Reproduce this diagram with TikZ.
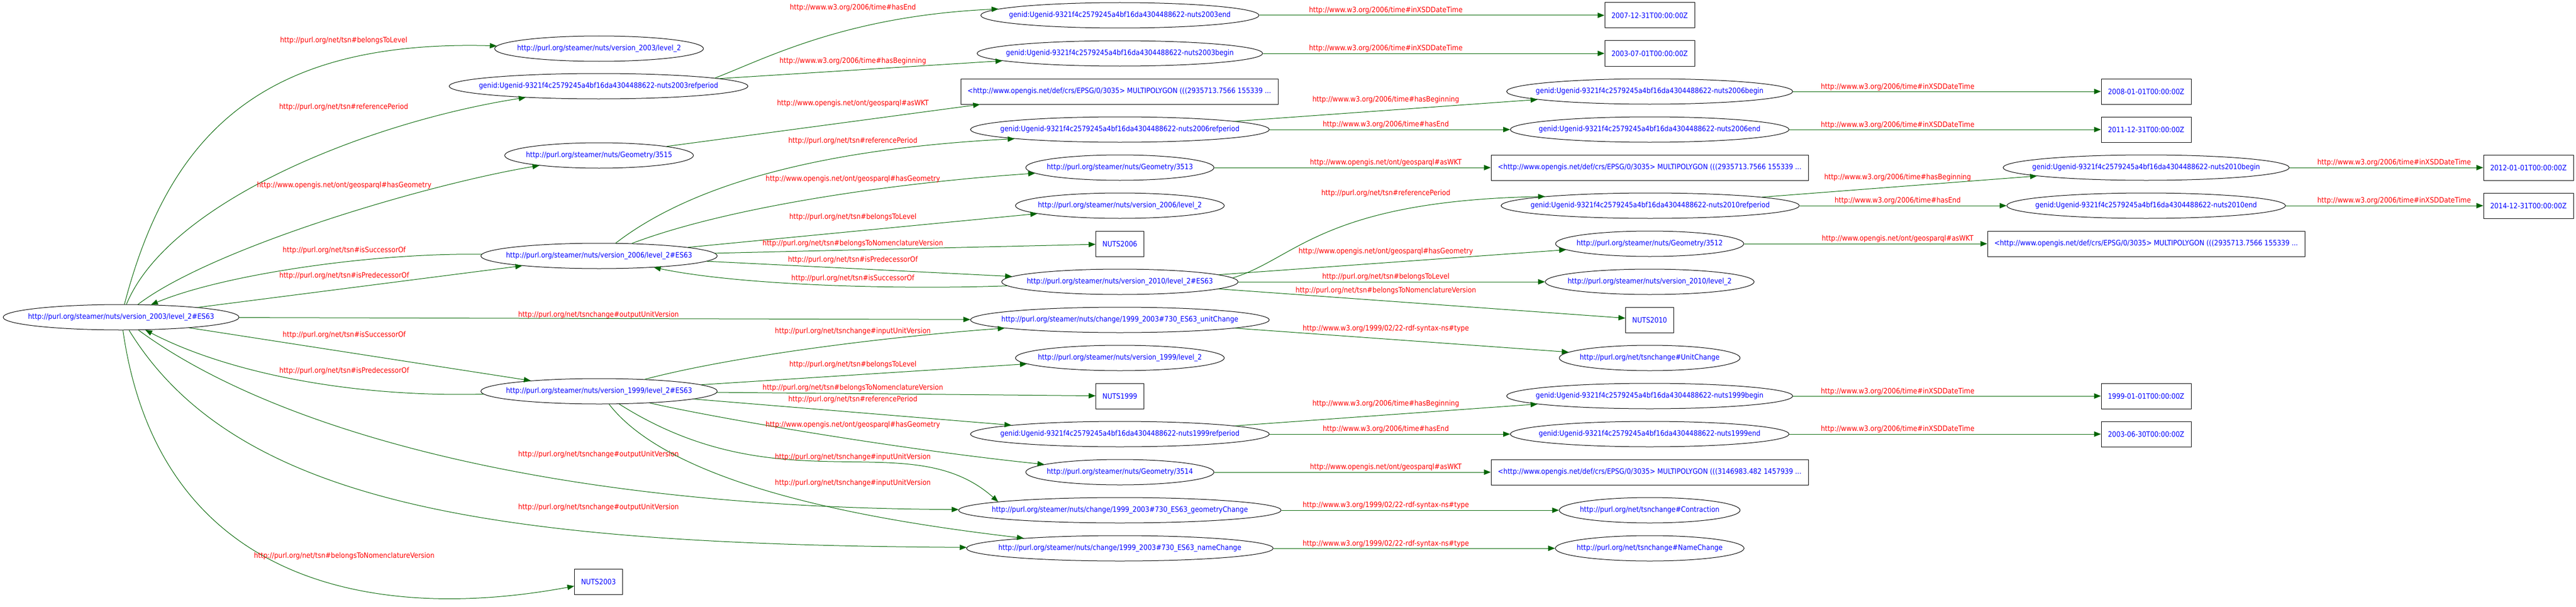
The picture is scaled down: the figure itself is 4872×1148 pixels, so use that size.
\documentclass[tikz,border=0pt]{standalone}
\usepackage{fontspec}
\setmainfont{DejaVu Sans}[FakeStretch=0.89]
\usetikzlibrary{arrows.meta, shapes.geometric}
\definecolor{relGreen}{RGB}{0,100,0}
\newcommand{\gfont}{\fontsize{14}{16}\selectfont}

\begin{document}
\begin{tikzpicture}[x=1pt, y=-1pt, >={Triangle[length=13pt, width=10pt]},
    res/.style={ellipse, draw, line width=1pt, inner xsep=-150pt, inner ysep=-20pt, minimum height=48pt, text=blue, font=\gfont},
    lit/.style={rectangle, draw, line width=1pt, minimum height=48pt, text=blue, font=\gfont},
    lbl/.style={text=red, inner sep=0pt, font=\gfont},
    rel/.style={->, draw=relGreen, line width=1pt}]
    \useasboundingbox (0,0) rectangle (4872,1148);

    % first column
    \node[res, minimum width=446pt] (es2003) at (229,600) {http://purl.org/steamer/nuts/version\_2003/level\_2\#ES63};

    % second column
    \node[res, minimum width=395pt] (lvl2003) at (1133,92) {http://purl.org/steamer/nuts/version\_2003/level\_2};
    \node[res, minimum width=565pt] (rp2003) at (1132,163) {genid:Ugenid-9321f4c2579245a4bf16da4304488622-nuts2003refperiod};
    \node[res, minimum width=357pt] (geo3515) at (1133,294) {http://purl.org/steamer/nuts/Geometry/3515};
    \node[res, minimum width=447pt] (es2006) at (1133,484) {http://purl.org/steamer/nuts/version\_2006/level\_2\#ES63};
    \node[res, minimum width=447pt] (es1999) at (1133,740) {http://purl.org/steamer/nuts/version\_1999/level\_2\#ES63};
    \node[lit, minimum width=91pt] (nuts2003) at (1132,1100) {NUTS2003};

    % third column
    \node[res, minimum width=526pt] (end2003) at (2118,29) {genid:Ugenid-9321f4c2579245a4bf16da4304488622-nuts2003end};
    \node[res, minimum width=540pt] (begin2003) at (2118,101) {genid:Ugenid-9321f4c2579245a4bf16da4304488622-nuts2003begin};
    \node[lit, minimum width=600pt] (wkt3515) at (2117,173) {<http://www.opengis.net/def/crs/EPSG/0/3035> MULTIPOLYGON (((2935713.7566 155339 ...};
    \node[res, minimum width=565pt] (rp2006) at (2118,245) {genid:Ugenid-9321f4c2579245a4bf16da4304488622-nuts2006refperiod};
    \node[res, minimum width=356pt] (geo3513) at (2118,317) {http://purl.org/steamer/nuts/Geometry/3513};
    \node[res, minimum width=395pt] (lvl2006) at (2118,389) {http://purl.org/steamer/nuts/version\_2006/level\_2};
    \node[lit, minimum width=91pt] (nuts2006) at (2118,461) {NUTS2006};
    \node[res, minimum width=447pt] (es2010) at (2118,533) {http://purl.org/steamer/nuts/version\_2010/level\_2\#ES63};
    \node[res, minimum width=565pt] (uc) at (2118,605) {http://purl.org/steamer/nuts/change/1999\_2003\#730\_ES63\_unitChange};
    \node[res, minimum width=395pt] (lvl1999) at (2118,677) {http://purl.org/steamer/nuts/version\_1999/level\_2};
    \node[lit, minimum width=91pt] (nuts1999) at (2118,749) {NUTS1999};
    \node[res, minimum width=565pt] (rp1999) at (2118,821) {genid:Ugenid-9321f4c2579245a4bf16da4304488622-nuts1999refperiod};
    \node[res, minimum width=356pt] (geo3514) at (2118,893) {http://purl.org/steamer/nuts/Geometry/3514};
    \node[res, minimum width=610pt] (gc) at (2118,965) {http://purl.org/steamer/nuts/change/1999\_2003\#730\_ES63\_geometryChange};
    \node[res, minimum width=580pt] (nc) at (2118,1037) {http://purl.org/steamer/nuts/change/1999\_2003\#730\_ES63\_nameChange};

    % fourth column
    \node[lit, minimum width=170pt] (d20071231) at (3120,29) {2007-12-31T00:00:00Z};
    \node[lit, minimum width=170pt] (d20030701) at (3120,101) {2003-07-01T00:00:00Z};
    \node[res, minimum width=541pt] (begin2006) at (3120,173) {genid:Ugenid-9321f4c2579245a4bf16da4304488622-nuts2006begin};
    \node[res, minimum width=527pt] (end2006) at (3120,245) {genid:Ugenid-9321f4c2579245a4bf16da4304488622-nuts2006end};
    \node[lit, minimum width=600pt] (wkt3513) at (3120,317) {<http://www.opengis.net/def/crs/EPSG/0/3035> MULTIPOLYGON (((2935713.7566 155339 ...};
    \node[res, minimum width=564pt] (rp2010) at (3121,389) {genid:Ugenid-9321f4c2579245a4bf16da4304488622-nuts2010refperiod};
    \node[res, minimum width=356pt] (geo3512) at (3120,461) {http://purl.org/steamer/nuts/Geometry/3512};
    \node[res, minimum width=395pt] (lvl2010) at (3120,533) {http://purl.org/steamer/nuts/version\_2010/level\_2};
    \node[lit, minimum width=91pt] (nuts2010) at (3120,605) {NUTS2010};
    \node[res, minimum width=342pt] (unitchg) at (3120,677) {http://purl.org/net/tsnchange\#UnitChange};
    \node[res, minimum width=541pt] (begin1999) at (3120,749) {genid:Ugenid-9321f4c2579245a4bf16da4304488622-nuts1999begin};
    \node[res, minimum width=527pt] (end1999) at (3120,821) {genid:Ugenid-9321f4c2579245a4bf16da4304488622-nuts1999end};
    \node[lit, minimum width=600pt] (wkt3514) at (3120,893) {<http://www.opengis.net/def/crs/EPSG/0/3035> MULTIPOLYGON (((3146983.482 1457939 ...};
    \node[res, minimum width=342pt] (contr) at (3120,965) {http://purl.org/net/tsnchange\#Contraction};
    \node[res, minimum width=357pt] (namechg) at (3120,1037) {http://purl.org/net/tsnchange\#NameChange};

    % fifth and sixth column
    \node[lit, minimum width=170pt] (d20080101) at (4059,173) {2008-01-01T00:00:00Z};
    \node[lit, minimum width=170pt] (d20111231) at (4059,245) {2011-12-31T00:00:00Z};
    \node[res, minimum width=541pt] (begin2010) at (4059,317) {genid:Ugenid-9321f4c2579245a4bf16da4304488622-nuts2010begin};
    \node[res, minimum width=527pt] (end2010) at (4059,389) {genid:Ugenid-9321f4c2579245a4bf16da4304488622-nuts2010end};
    \node[lit, minimum width=600pt] (wkt3512) at (4059,461) {<http://www.opengis.net/def/crs/EPSG/0/3035> MULTIPOLYGON (((2935713.7566 155339 ...};
    \node[lit, minimum width=170pt] (d19990101) at (4059,749) {1999-01-01T00:00:00Z};
    \node[lit, minimum width=170pt] (d20030630) at (4059,821) {2003-06-30T00:00:00Z};
    \node[lit, minimum width=170pt] (d20120101) at (4782,317) {2012-01-01T00:00:00Z};
    \node[lit, minimum width=170pt] (d20141231) at (4782,389) {2014-12-31T00:00:00Z};

    % edges of version 2003
    \draw[rel] (es2003) .. controls (320,250) and (500,75) .. (lvl2003);
    \draw[rel] (es2003) .. controls (320,380) and (700,230) .. (rp2003);
    \draw[rel] (es2003) .. controls (400,470) and (800,350) .. (geo3515);
    \draw[rel] (es2006) .. controls (700,478) and (420,520) .. (es2003);
    \draw[rel] (es2003) -- (es2006);
    \draw[rel] (es2003) -- (uc);
    \draw[rel] (es2003) -- (es1999);
    \draw[rel] (es1999) .. controls (650,752) and (420,700) .. (es2003);
    \draw[rel] (es2003) .. controls (500,800) and (1000,960) .. (gc);
    \draw[rel] (es2003) .. controls (450,960) and (950,1030) .. (nc);
    \draw[rel] (es2003) .. controls (300,1100) and (700,1180) .. (nuts2003);
    \node[lbl] (l1) at (650,77) {http://purl.org/net/tsn\#belongsToLevel};
    \node[lbl] (l2) at (650,203) {http://purl.org/net/tsn\#referencePeriod};
    \node[lbl] (l3) at (651,351) {http://www.opengis.net/ont/geosparql\#hasGeometry};
    \node[lbl] (l4) at (651,474) {http://purl.org/net/tsn\#isSuccessorOf};
    \node[lbl] (l5) at (651,522) {http://purl.org/net/tsn\#isPredecessorOf};
    \node[lbl] (l6) at (1132,596) {http://purl.org/net/tsnchange\#outputUnitVersion};
    \node[lbl] (l7) at (651,634) {http://purl.org/net/tsn\#isSuccessorOf};
    \node[lbl] (l8) at (651,702) {http://purl.org/net/tsn\#isPredecessorOf};
    \node[lbl] (l9) at (1132,860) {http://purl.org/net/tsnchange\#outputUnitVersion};
    \node[lbl] (l10) at (1132,960) {http://purl.org/net/tsnchange\#outputUnitVersion};
    \node[lbl] (l11) at (651,1052) {http://purl.org/net/tsn\#belongsToNomenclatureVersion};

    % edges of version 1999
    \draw[rel] (es1999) .. controls (1400,670) and (1700,635) .. (uc);
    \draw[rel] (es1999) -- (lvl1999);
    \draw[rel] (es1999) -- (nuts1999);
    \draw[rel] (es1999) -- (rp1999);
    \draw[rel] (es1999) .. controls (1350,790) and (1700,850) .. (geo3514);
    \draw[rel] (es1999) .. controls (1480,960) and (1720,800) .. (gc.176);
    \draw[rel] (es1999) .. controls (1280,930) and (1700,990) .. (nc.174);
    \node[lbl] (l12) at (1613,627) {http://purl.org/net/tsnchange\#inputUnitVersion};
    \node[lbl] (l13) at (1613,690) {http://purl.org/net/tsn\#belongsToLevel};
    \node[lbl] (l14) at (1613,734) {http://purl.org/net/tsn\#belongsToNomenclatureVersion};
    \node[lbl] (l15) at (1613,756) {http://purl.org/net/tsn\#referencePeriod};
    \node[lbl] (l16) at (1613,804) {http://www.opengis.net/ont/geosparql\#hasGeometry};
    \node[lbl] (l17) at (1613,865) {http://purl.org/net/tsnchange\#inputUnitVersion};
    \node[lbl] (l18) at (1613,914) {http://purl.org/net/tsnchange\#inputUnitVersion};

    % edges of version 2006
    \draw[rel] (es2006) .. controls (1320,340) and (1580,280) .. (rp2006.185);
    \draw[rel] (es2006) .. controls (1380,390) and (1700,345) .. (geo3513);
    \draw[rel] (es2006) -- (lvl2006);
    \draw[rel] (es2006) -- (nuts2006);
    \draw[rel] (es2006) -- (es2010);
    \draw[rel] (es2010) .. controls (1700,548) and (1400,540) .. (es2006);
    \node[lbl] (l19) at (1613,267) {http://purl.org/net/tsn\#referencePeriod};
    \node[lbl] (l20) at (1613,339) {http://www.opengis.net/ont/geosparql\#hasGeometry};
    \node[lbl] (l21) at (1613,411) {http://purl.org/net/tsn\#belongsToLevel};
    \node[lbl] (l22) at (1613,461) {http://purl.org/net/tsn\#belongsToNomenclatureVersion};
    \node[lbl] (l23) at (1613,492) {http://purl.org/net/tsn\#isPredecessorOf};
    \node[lbl] (l24) at (1613,527) {http://purl.org/net/tsn\#isSuccessorOf};

    % periods and geometry of 2003
    \draw[rel] (rp2003.4) .. controls (1450,110) and (1600,30) .. (end2003.177);
    \draw[rel] (rp2003) -- (begin2003);
    \draw[rel] (geo3515) -- ([xshift=37pt]wkt3515.south west);
    \node[lbl] (l25) at (1613,15) {http://www.w3.org/2006/time\#hasEnd};
    \node[lbl] (l26) at (1613,116) {http://www.w3.org/2006/time\#hasBeginning};
    \node[lbl] (l27) at (1613,196) {http://www.opengis.net/ont/geosparql\#asWKT};

    % third to fourth column
    \draw[rel] (end2003) -- (d20071231);
    \draw[rel] (begin2003) -- (d20030701);
    \draw[rel] (rp2006) -- (begin2006);
    \draw[rel] (rp2006) -- (end2006);
    \draw[rel] (geo3513) -- (wkt3513);
    \draw[rel] (es2010.2) .. controls (2450,490) and (2500,380) .. (rp2010.175);
    \draw[rel] (es2010) -- (geo3512);
    \draw[rel] (es2010) -- (lvl2010);
    \draw[rel] (es2010) -- (nuts2010);
    \draw[rel] (uc) -- (unitchg);
    \draw[rel] (rp1999) -- (begin1999);
    \draw[rel] (rp1999) -- (end1999);
    \draw[rel] (geo3514) -- (wkt3514);
    \draw[rel] (gc) -- (contr);
    \draw[rel] (nc) -- (namechg);
    \node[lbl] (l28) at (2621,20) {http://www.w3.org/2006/time\#inXSDDateTime};
    \node[lbl] (l29) at (2621,92) {http://www.w3.org/2006/time\#inXSDDateTime};
    \node[lbl] (l30) at (2621,189) {http://www.w3.org/2006/time\#hasBeginning};
    \node[lbl] (l31) at (2621,236) {http://www.w3.org/2006/time\#hasEnd};
    \node[lbl] (l32) at (2621,308) {http://www.opengis.net/ont/geosparql\#asWKT};
    \node[lbl] (l33) at (2621,366) {http://purl.org/net/tsn\#referencePeriod};
    \node[lbl] (l34) at (2621,476) {http://www.opengis.net/ont/geosparql\#hasGeometry};
    \node[lbl] (l35) at (2621,524) {http://purl.org/net/tsn\#belongsToLevel};
    \node[lbl] (l36) at (2621,550) {http://purl.org/net/tsn\#belongsToNomenclatureVersion};
    \node[lbl] (l37) at (2621,622) {http://www.w3.org/1999/02/22-rdf-syntax-ns\#type};
    \node[lbl] (l38) at (2621,764) {http://www.w3.org/2006/time\#hasBeginning};
    \node[lbl] (l39) at (2621,812) {http://www.w3.org/2006/time\#hasEnd};
    \node[lbl] (l40) at (2621,884) {http://www.opengis.net/ont/geosparql\#asWKT};
    \node[lbl] (l41) at (2621,956) {http://www.w3.org/1999/02/22-rdf-syntax-ns\#type};
    \node[lbl] (l42) at (2621,1029) {http://www.w3.org/1999/02/22-rdf-syntax-ns\#type};

    % fourth to sixth column
    \draw[rel] (begin2006) -- (d20080101);
    \draw[rel] (end2006) -- (d20111231);
    \draw[rel] (rp2010) -- (begin2010);
    \draw[rel] (rp2010) -- (end2010);
    \draw[rel] (geo3512) -- (wkt3512);
    \draw[rel] (begin1999) -- (d19990101);
    \draw[rel] (end1999) -- (d20030630);
    \draw[rel] (begin2010) -- (d20120101);
    \draw[rel] (end2010) -- (d20141231);
    \node[lbl] (l43) at (3589,165) {http://www.w3.org/2006/time\#inXSDDateTime};
    \node[lbl] (l44) at (3589,237) {http://www.w3.org/2006/time\#inXSDDateTime};
    \node[lbl] (l45) at (3589,336) {http://www.w3.org/2006/time\#hasBeginning};
    \node[lbl] (l46) at (3589,380) {http://www.w3.org/2006/time\#hasEnd};
    \node[lbl] (l47) at (3589,452) {http://www.opengis.net/ont/geosparql\#asWKT};
    \node[lbl] (l48) at (3589,741) {http://www.w3.org/2006/time\#inXSDDateTime};
    \node[lbl] (l49) at (3589,812) {http://www.w3.org/2006/time\#inXSDDateTime};
    \node[lbl] (l50) at (4528,308) {http://www.w3.org/2006/time\#inXSDDateTime};
    \node[lbl] (l51) at (4528,380) {http://www.w3.org/2006/time\#inXSDDateTime};
\end{tikzpicture}
\end{document}
